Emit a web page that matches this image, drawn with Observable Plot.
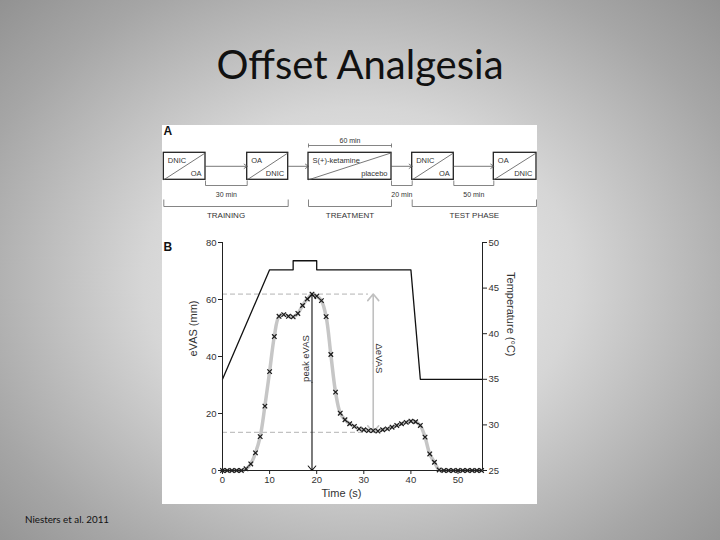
<!DOCTYPE html>
<html>
<head>
<meta charset="utf-8">
<script src="https://cdn.jsdelivr.net/npm/d3@7"></script>
<script src="https://cdn.jsdelivr.net/npm/@observablehq/plot@0.6"></script>
<style>
  html, body { margin: 0; padding: 0; }
  body {
    width: 720px; height: 540px; position: relative; overflow: hidden;
    background: radial-gradient(ellipse 75% 80% at 50% 52%, #f2f2f2 0%, #d6d6d6 40%, #a6a6a6 75%, #8a8a8a 100%);
  }
  #title {
    position: absolute; left: 0; width: 720px; top: 41.5px; text-align: center;
    font-family: Lato, "Open Sans", sans-serif; font-size: 40px; line-height: 44px; color: #111;
  }
  #footer {
    position: absolute; left: 25px; top: 513px;
    font-family: Lato, "Open Sans", sans-serif; font-size: 9.8px; color: #111;
  }
  #figure {
    position: absolute; left: 162px; top: 125px; width: 375px; height: 379px; background: #fff;
  }
  #panelA { position: absolute; left: 0; top: 0; }
  #panelB { position: absolute; left: 0; top: 107px; }
</style>
</head>
<body>
<div id="title">Offset Analgesia</div>
<div id="figure"><div id="panelA"></div><div id="panelB"></div></div>
<div id="footer">Niesters et al. 2011</div>
<script>
// ---------- Panel A data (protocol diagram) ----------
const stepTop    = ["DNIC", "OA", "S(+)-ketamine", "DNIC", "OA"];
const stepBottom = ["OA", "DNIC", "placebo", "OA", "DNIC"];
const intervalLabels = ["30 min", "20 min", "50 min"];
const intervalAfterStep = [0, 2, 3];
const phaseLabels = ["TRAINING", "TREATMENT", "TEST PHASE"];
const phaseFirstStep = [0, 2, 3];
const phaseLastStep  = [1, 2, 4];
const treatmentLabel = "60 min";
const treatmentStep = 2;

// ---------- Panel B data ----------
const timeS = [0,1,2,3,4,5,6,7,8,9,10,11,12,13,14,15,16,17,18,19,20,21,22,23,24,25,26,27,28,29,30,31,32,33,34,35,36,37,38,39,40,41,42,43,44,45,46,47,48,49,50,51,52,53,54,55];
const eVAS  = [0,0,0,0,0,0.6,2.3,6.2,11.9,22.6,34.7,47,54.1,54.7,54.1,53.9,55.1,57.9,60.2,61.9,61.2,59.6,54,40.7,27.5,20.1,17.8,16.4,15.5,14.6,14.3,14.0,14.0,13.8,14.3,14.6,15.2,15.8,16.4,16.9,17.3,17.1,15.8,11.7,5.8,2.9,0.2,0,0,0,0,0,0,0,0,0];
const tempTime = [0, 10, 15, 15, 20, 20, 40, 42, 55.2];
const tempC    = [35, 47, 47, 48, 48, 47, 47, 35, 35];
const xTicks = [0, 10, 20, 30, 40, 50];
const eVASTicks = [0, 20, 40, 60, 80];
const tempTicks = [25, 30, 35, 40, 45, 50];
const peakTime = 19, peakValue = 61.9;
const deltaTime = 32, troughValue = 13.4;
const dashEnd = 31;

// ---------- Panel A ----------
const ink = "#333333";
const boxLeft  = [1.3, 84.7, 146, 249.7, 331.3];
const boxRight = [43, 125.7, 229, 291.3, 374];
const boxTopY = 27.3, boxBotY = 54.3, boxMidY = 40.8;
const boxes = stepTop.map((t, i) => ({i, top: t, bottom: stepBottom[i], x1: boxLeft[i], x2: boxRight[i]}));
const connectors = boxes.slice(0, -1).map((b, i) => ({x1: b.x2, x2: boxes[i + 1].x1}));
const intervals = intervalLabels.map((lab, k) => {
  const s = intervalAfterStep[k];
  return {label: lab, x1: boxes[s].x2, x2: boxes[s + 1].x1};
});
const phases = phaseLabels.map((lab, k) => ({label: lab, x1: boxes[phaseFirstStep[k]].x1, x2: boxes[phaseLastStep[k]].x2}));
const treat = [{label: treatmentLabel, x1: boxes[treatmentStep].x1, x2: boxes[treatmentStep].x2}];
const intY = 60, phaseY = 81;
const ticksOf = (arr, y0, y1) => arr.flatMap(d => [{x: d.x1, y1: y0, y2: y1}, {x: d.x2, y1: y0, y2: y1}]);

const panelA = Plot.plot({
  width: 375, height: 107, margin: 0,
  x: {domain: [0, 375], range: [0, 375], axis: null},
  y: {domain: [0, 107], range: [0, 107], axis: null},
  style: {fontFamily: "'Liberation Sans', Arial, sans-serif", background: "transparent", color: ink},
  marks: [
    Plot.text(["A"], {frameAnchor: "top-left", dx: 1, dy: 1, fontSize: 12, fontWeight: "bold", fill: "#111", lineAnchor: "top"}),
    Plot.rect(boxes, {x1: "x1", x2: "x2", y1: boxTopY, y2: boxBotY, fill: "white", stroke: "#222", strokeWidth: 1.3}),
    Plot.link(boxes, {x1: "x1", x2: "x2", y1: boxBotY, y2: boxTopY, stroke: "#555", strokeWidth: 0.8}),
    Plot.text(boxes, {x: d => d.x1 + 4, y: 35, text: "top", textAnchor: "start", fontSize: 7.5, fill: ink}),
    Plot.text(boxes, {x: d => d.x2 - 4, y: 48.5, text: "bottom", textAnchor: "end", fontSize: 7.5, fill: ink}),
    Plot.arrow(connectors, {x1: "x1", x2: "x2", y1: boxMidY, y2: boxMidY, stroke: "#555", strokeWidth: 0.8, headLength: 7, headAngle: 70}),
    // treatment duration bracket
    Plot.link(treat, {x1: "x1", x2: "x2", y1: 20, y2: 20, stroke: "#666", strokeWidth: 0.8}),
    Plot.link(ticksOf(treat, 18, 22), {x1: "x", x2: "x", y1: "y1", y2: "y2", stroke: "#666", strokeWidth: 0.8}),
    Plot.text(treat, {x: d => (d.x1 + d.x2) / 2, y: 15, text: "label", fontSize: 7, fill: ink}),
    // interval brackets
    Plot.link(intervals, {x1: "x1", x2: "x2", y1: intY, y2: intY, stroke: "#666", strokeWidth: 0.8}),
    Plot.link(ticksOf(intervals, intY - 5, intY), {x1: "x", x2: "x", y1: "y1", y2: "y2", stroke: "#666", strokeWidth: 0.8}),
    Plot.text(intervals, {x: d => (d.x1 + d.x2) / 2, y: 69, text: "label", fontSize: 7, fill: ink}),
    // phase brackets
    Plot.link(phases, {x1: "x1", x2: "x2", y1: phaseY, y2: phaseY, stroke: "#666", strokeWidth: 0.8}),
    Plot.link(ticksOf(phases, phaseY - 7, phaseY), {x1: "x", x2: "x", y1: "y1", y2: "y2", stroke: "#666", strokeWidth: 0.8}),
    Plot.text(phases, {x: d => (d.x1 + d.x2) / 2, y: 89.5, text: "label", fontSize: 8, fill: ink})
  ]
});
document.getElementById("panelA").append(panelA);

// ---------- Panel B ----------
const toE = c => (c - 25) * 80 / 25;           // temperature -> eVAS scale position
const fromE = e => Math.round(e * 25 / 80 + 25);
const xMax = tempTime[tempTime.length - 1];
const vas = timeS.map((t, i) => ({t, v: eVAS[i]}));
const temp = tempTime.map((t, i) => ({t, e: toE(tempC[i])}));
const peakArrows = [
  {x: peakTime, y1: peakValue / 2, y2: peakValue},
  {x: peakTime, y1: peakValue / 2, y2: 0}
];
const midD = (peakValue + troughValue) / 2;
const deltaArrows = [
  {x: deltaTime, y1: midD, y2: peakValue},
  {x: deltaTime, y1: midD, y2: troughValue}
];
const dashes = [{y: peakValue}, {y: troughValue}];

const panelB = Plot.plot({
  width: 375, height: 272,
  marginLeft: 60, marginRight: 55, marginTop: 10, marginBottom: 34,
  x: {domain: [0, xMax]},
  y: {domain: [0, 80]},
  style: {fontFamily: "'Liberation Sans', Arial, sans-serif", fontSize: "9.5px", background: "transparent", color: "#333"},
  marks: [
    Plot.ruleY(dashes, {y: "y", x1: 0, x2: dashEnd, stroke: "#aaa", strokeWidth: 0.9, strokeDasharray: "5,3"}),
    Plot.line(temp, {x: "t", y: "e", stroke: "#111", strokeWidth: 1.3}),
    Plot.line(vas, {x: "t", y: "v", stroke: "#c6c6c6", strokeWidth: 3.5, curve: "catmull-rom"}),
    Plot.arrow(deltaArrows, {x1: "x", x2: "x", y1: "y1", y2: "y2", stroke: "#c0c0c0", strokeWidth: 1.6, headLength: 8, headAngle: 80}),
    Plot.arrow(peakArrows, {x1: "x", x2: "x", y1: "y1", y2: "y2", stroke: "#111", strokeWidth: 1.1, headLength: 8, headAngle: 80}),
    Plot.dot(vas, {x: "t", y: "v", symbol: "times", r: 2.2, stroke: "#1a1a1a", strokeWidth: 1.2}),
    Plot.ruleX([0, xMax], {stroke: "#222", strokeWidth: 1}),
    Plot.ruleY([0], {stroke: "#222", strokeWidth: 1}),
    Plot.axisX(xTicks, {tickSize: 4, tickPadding: 2, label: null, stroke: "#222"}),
    Plot.axisY(eVASTicks, {tickSize: 4, tickPadding: 2, label: null, stroke: "#222"}),
    Plot.axisY(tempTicks.map(toE), {anchor: "right", tickSize: 4, tickPadding: 2, label: null, tickFormat: fromE, stroke: "#222"}),
    Plot.text(["peak eVAS"], {x: peakTime, y: 39.3, rotate: -90, dx: -6, fontSize: 9.5, fill: "#333"}),
    Plot.text(["\u0394eVAS"], {x: deltaTime, y: 39.3, rotate: 90, dx: 6, fontSize: 9.5, fill: "#333"}),
    Plot.text(["eVAS (mm)"], {frameAnchor: "left", rotate: -90, dx: -29, fontSize: 11, fill: "#333"}),
    Plot.text(["Temperature (\u00B0C)"], {frameAnchor: "right", rotate: 90, dx: 28, fontSize: 11, fill: "#333"}),
    Plot.text(["Time (s)"], {frameAnchor: "bottom", dx: -11, dy: 26, fontSize: 11, fill: "#333"}),
    Plot.text(["B"], {frameAnchor: "top-left", dx: -59, dy: 0, textAnchor: "start", fontSize: 12, fontWeight: "bold", fill: "#111"})
  ]
});
document.getElementById("panelB").append(panelB);
</script>
</body>
</html>
